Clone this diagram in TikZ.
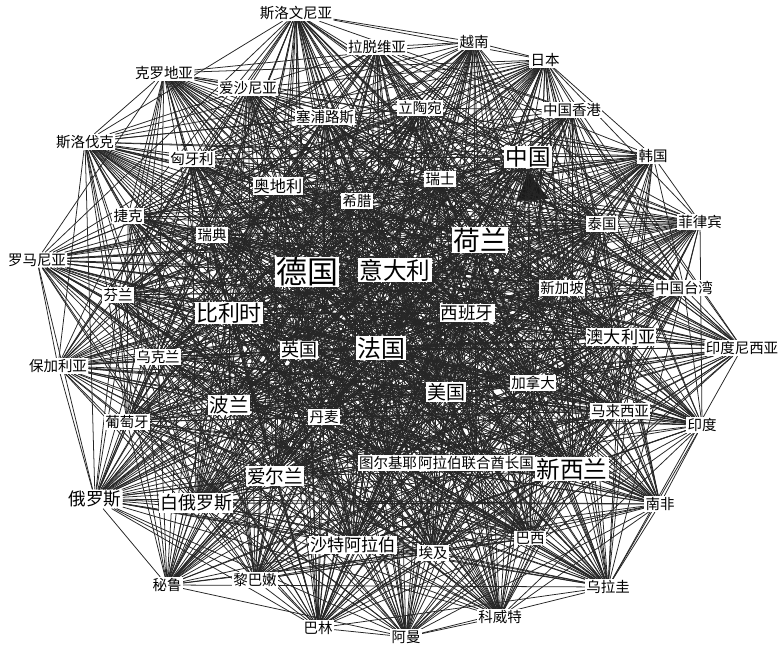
\documentclass[tikz,border=0pt]{standalone}
\usepackage{fontspec}
\newfontfamily\cjk{Noto Sans CJK SC}
\usetikzlibrary{backgrounds}
\newcommand\fsz[1]{\fontsize{#1}{#1}\selectfont}
% name/weight of every economy, weight drives how many links it gets
\def\ctrylist{svn/40,lva/36,vnm/36,jpn/36,hkg/38,kor/36,phl/36,twn/36,idn/36,ind/36,
  zaf/36,ury/34,kwt/34,omn/32,bhr/32,per/28,lbn/34,rus/38,blr/38,prt/38,
  bgr/34,rou/34,cze/38,svk/36,hrv/36,est/38,cyp/40,ltu/40,hun/40,aut/46,
  grc/44,che/46,chn/60,swe/44,deu/75,ita/65,nld/70,tha/42,sgp/44,fin/42,
  bel/62,esp/52,gbr/55,fra/70,aus/50,ukr/42,usa/55,can/46,mys/44,pol/52,
  dnk/46,irl/52,tur/46,are/44,nzl/60,sau/48,egy/44,bra/44}

\begin{document}
\begin{tikzpicture}[x=0.025cm,y=-0.025cm,
   lbl/.style={fill=white,inner sep=0.8pt,font=\cjk\fsz{#1}},
   lbl/.default=10.3,
   edge/.style={line width=0.55pt,black!85}]
  \useasboundingbox (0,0) rectangle (780,648);
  % outer ring
  \node[lbl] (svn) at (296,13) {斯洛文尼亚};
  \node[lbl] (lva) at (377,47) {拉脱维亚};
  \node[lbl] (vnm) at (474,42) {越南};
  \node[lbl] (jpn) at (545,60) {日本};
  \node[lbl] (hkg) at (572,110) {中国香港};
  \node[lbl] (kor) at (653,156) {韩国};
  \node[lbl] (phl) at (700,222) {菲律宾};
  \node[lbl] (twn) at (684,288) {中国台湾};
  \node[lbl] (idn) at (742,348) {印度尼西亚};
  \node[lbl] (ind) at (702,425) {印度};
  \node[lbl] (zaf) at (660,504) {南非};
  \node[lbl] (ury) at (608,587) {乌拉圭};
  \node[lbl] (kwt) at (500,617) {科威特};
  \node[lbl] (omn) at (406,637) {阿曼};
  \node[lbl] (bhr) at (318,628) {巴林};
  \node[lbl] (per) at (167,585) {秘鲁};
  \node[lbl] (lbn) at (255,580) {黎巴嫩};
  \node[lbl=12.5] (rus) at (95,499) {俄罗斯};
  \node[lbl=12.8] (blr) at (196,503) {白俄罗斯};
  \node[lbl] (prt) at (127,422) {葡萄牙};
  \node[lbl] (bgr) at (58,366) {保加利亚};
  \node[lbl] (rou) at (37,260) {罗马尼亚};
  \node[lbl] (cze) at (128,216) {捷克};
  \node[lbl] (svk) at (85,142) {斯洛伐克};
  \node[lbl] (hrv) at (164,73) {克罗地亚};
  \node[lbl] (est) at (248,88) {爱沙尼亚};
  \node[lbl] (cyp) at (325,117) {塞浦路斯};
  \node[lbl] (ltu) at (420,108) {立陶宛};
  \node[lbl] (hun) at (192,159) {匈牙利};
  % inner part
  \node[lbl=11.5] (aut) at (278,186) {奥地利};
  \node[lbl] (grc) at (357,201) {希腊};
  \node[lbl] (che) at (440,179) {瑞士};
  \node[lbl=16] (chn) at (528,157) {中国};
  \node[lbl] (swe) at (212,235) {瑞典};
  \node[lbl=22] (deu) at (307,272) {德国};
  \node[lbl=16.8] (ita) at (395,270) {意大利};
  \node[lbl=19] (nld) at (480,240) {荷兰};
  \node[lbl] (tha) at (602,224) {泰国};
  \node[lbl] (sgp) at (562,288) {新加坡};
  \node[lbl] (fin) at (118,295) {芬兰};
  \node[lbl=15.6] (bel) at (229,313) {比利时};
  \node[lbl=12.5] (esp) at (467,313) {西班牙};
  \node[lbl=12.8] (gbr) at (299,350) {英国};
  \node[lbl=17] (fra) at (381,348) {法国};
  \node[lbl=12.2] (aus) at (621,337) {澳大利亚};
  \node[lbl] (ukr) at (158,357) {乌克兰};
  \node[lbl=13.5] (usa) at (446,392) {美国};
  \node[lbl] (can) at (533,383) {加拿大};
  \node[lbl] (mys) at (620,411) {马来西亚};
  \node[lbl=13.8] (pol) at (229,405) {波兰};
  \node[lbl] (dnk) at (324,417) {丹麦};
  \node[lbl=13.2] (irl) at (275,476) {爱尔兰};
  \node[lbl] (tur) at (388,463) {图尔基耶};
  \node[lbl] (are) at (476,463) {阿拉伯联合酋长国};
  \node[lbl=16.8] (nzl) at (572,469) {新西兰};
  \node[lbl=12.2] (sau) at (353,545) {沙特阿拉伯};
  \node[lbl] (egy) at (433,553) {埃及};
  \node[lbl] (bra) at (530,538) {巴西};
  % links
  \pgfmathsetseed{4}
  \begin{scope}[on background layer]
    \fill[black!90] (517,201) -- (528,172) -- (549,199) -- cycle;
    \foreach \a/\wa [count=\i] in \ctrylist {
      \foreach \b/\wb [count=\j] in \ctrylist {
        \ifnum\j>\i
          \pgfmathtruncatemacro\r{random(0,99)}
          \pgfmathtruncatemacro\ok{\r<\wa+\wb}
          \ifnum\ok=1 \draw[edge] (\a) -- (\b); \fi
        \fi
      }
    }
  \end{scope}
\end{tikzpicture}
\end{document}
